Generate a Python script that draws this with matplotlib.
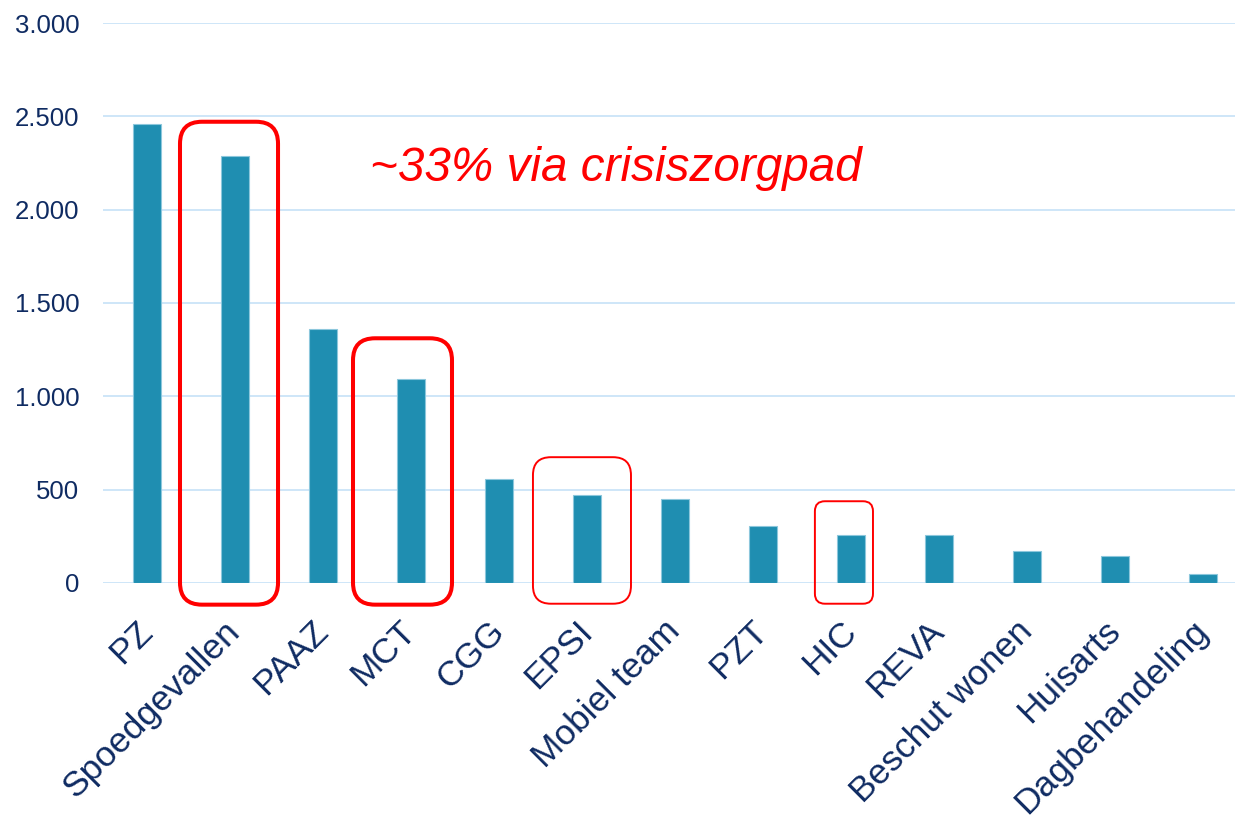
import matplotlib
matplotlib.use("Agg")
import matplotlib.pyplot as plt
from matplotlib.patches import FancyBboxPatch
from matplotlib.transforms import IdentityTransform
from matplotlib.ticker import FuncFormatter

categories = ["PZ", "Spoedgevallen", "PAAZ", "MCT", "CGG", "EPSI", "Mobiel team",
              "PZT", "HIC", "REVA", "Beschut wonen", "Huisarts", "Dagbehandeling"]
values = [2457, 2287, 1361, 1094, 559, 473, 450, 305, 255, 255, 171, 146, 50]
yticks = [0, 500, 1000, 1500, 2000, 2500, 3000]
annotation = "~33% via crisiszorgpad"

plt.rcParams['font.family'] = ['Liberation Sans', 'DejaVu Sans']
navy = '#0F2B62'
bar_color = '#1F8EB1'
grid_color = '#C6E1F7'

DPI = 100
fig = plt.figure(figsize=(12.35, 8.17), dpi=DPI)
ax = fig.add_axes([103/1235, 234/817, 1132/1235, 560/817])

x = list(range(len(categories)))
ax.bar(x, values, width=0.31, color=bar_color, edgecolor='#8CC7DC', linewidth=0.8, zorder=3)

ax.set_xlim(-0.5, 12.364)
ax.set_ylim(0, 3000)
ax.set_yticks(yticks)
ax.yaxis.set_major_formatter(FuncFormatter(lambda v, p: f"{int(v):,}".replace(",", ".")))
ax.grid(axis='y', color=grid_color, linewidth=1.2, zorder=0)
ax.set_axisbelow(True)
for s in ax.spines.values():
    s.set_visible(False)
ax.tick_params(axis='y', length=0, pad=17, labelsize=18.5, labelcolor=navy)
ax.tick_params(axis='x', length=0, pad=31, labelsize=25.5, labelcolor=navy)
ax.set_xticks(x)
ax.set_xticklabels(categories, rotation=45, ha='right', va='center', rotation_mode='anchor')

ax.text(2.534, 2155, annotation, color='#FF0000', fontsize=34.3, style='italic',
        ha='left', va='baseline', zorder=5)

# highlight boxes in data coordinates: (x0, x1, y0, y1, linewidth_pt, radius_px)
boxes = [
    (0.375, 1.489, -116, 2471, 2.9, 22),
    (2.341, 3.466, -116, 1311, 2.9, 22),
    (4.386, 5.500, -111, 674, 1.4, 18),
    (7.590, 8.250, -111, 438, 1.4, 10),
]
fig.canvas.draw()
for x0, x1, y0, y1, lw, r in boxes:
    (px0, py0) = ax.transData.transform((x0, y0))
    (px1, py1) = ax.transData.transform((x1, y1))
    patch = FancyBboxPatch((px0, py0), px1 - px0, py1 - py0,
                           boxstyle=f"round,pad=0,rounding_size={r}",
                           transform=IdentityTransform(), fill=False,
                           edgecolor='#FF0000', linewidth=lw, clip_on=False, zorder=6)
    fig.patches.append(patch)

fig.savefig("out.png", dpi=DPI, facecolor='white')
